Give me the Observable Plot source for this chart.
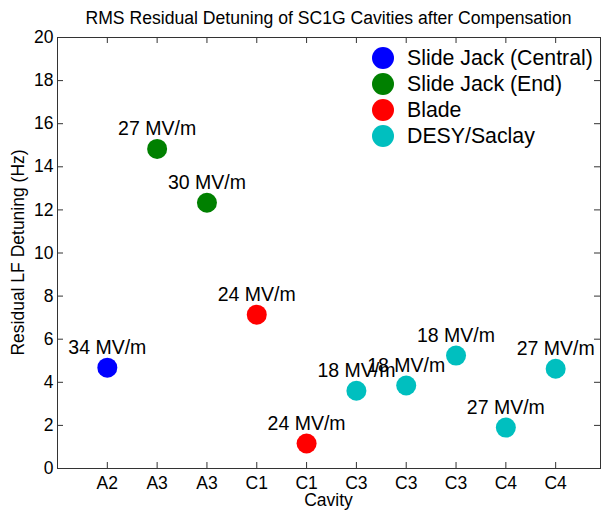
<!DOCTYPE html>
<html>
<head>
<meta charset="utf-8">
<script src="https://cdn.jsdelivr.net/npm/d3@7"></script>
<script src="https://cdn.jsdelivr.net/npm/@observablehq/plot@0.6"></script>
<style>
  html, body { margin: 0; padding: 0; background: #fff; }
  #wrap { position: relative; width: 603px; height: 512px; font-family: "Liberation Sans", Arial, sans-serif; }
  #legend { position: absolute; left: 372px; top: 45px; }
  .li { display: flex; align-items: center; height: 26px; font-size: 21.3px; color: #000; }
  .sw { width: 22px; height: 22px; border-radius: 50%; margin-right: 13px; }
</style>
</head>
<body>
<div id="wrap"></div>
<script>
const categories = ["A2", "A3", "A3", "C1", "C1", "C3", "C3", "C3", "C4", "C4"];
const positions = [1, 2, 3, 4, 5, 6, 7, 8, 9, 10];
const detuning = [4.68, 14.83, 12.33, 7.14, 1.16, 3.61, 3.85, 5.24, 1.90, 4.63];
const gradients = ["34 MV/m", "27 MV/m", "30 MV/m", "24 MV/m", "24 MV/m", "18 MV/m", "18 MV/m", "18 MV/m", "27 MV/m", "27 MV/m"];
const tuners = ["Slide Jack (Central)", "Slide Jack (End)", "Slide Jack (End)", "Blade", "Blade", "DESY/Saclay", "DESY/Saclay", "DESY/Saclay", "DESY/Saclay", "DESY/Saclay"];
const tunerTypes = ["Slide Jack (Central)", "Slide Jack (End)", "Blade", "DESY/Saclay"];
const tunerColors = ["#0000ff", "#008000", "#ff0000", "#00bfbf"];
const yTicks = [0, 2, 4, 6, 8, 10, 12, 14, 16, 18, 20];

const data = positions.map((p, i) => ({pos: p, cat: categories[i], val: detuning[i], label: gradients[i], tuner: tuners[i]}));

const W = 603, H = 512;
const mL = 57, mR = 3, mT = 37, mB = 44;
const innerW = W - mL - mR, innerH = H - mT - mB;
const tk = 6;
const font = "Liberation Sans, Arial, sans-serif";

const chart = Plot.plot({
  width: W,
  height: H,
  marginLeft: mL, marginRight: mR, marginTop: mT, marginBottom: mB,
  style: {fontFamily: font, fontSize: "17.5px", color: "#000", background: "#fff"},
  x: {type: "linear", domain: [0, 10.9], label: null},
  y: {domain: [0, 20], label: null},
  color: {domain: tunerTypes, range: tunerColors},
  marks: [
    Plot.frame({stroke: "#333"}),
    Plot.tickX(positions, {x: d => d, insetTop: innerH - tk, stroke: "#333"}),
    Plot.tickX(positions, {x: d => d, insetBottom: innerH - tk, stroke: "#333"}),
    Plot.tickY(yTicks, {y: d => d, insetRight: innerW - tk, stroke: "#333"}),
    Plot.tickY(yTicks, {y: d => d, insetLeft: innerW - tk, stroke: "#333"}),
    Plot.axisX(positions, {anchor: "bottom", tickSize: 0, tickPadding: 8, fontSize: 17.5, tickFormat: (d, i) => categories[i], label: null}),
    Plot.axisY(yTicks, {anchor: "left", tickSize: 0, tickPadding: 4, fontSize: 17.5, label: null}),
    Plot.dot(data, {x: "pos", y: "val", fill: "tuner", r: 10}),
    Plot.text(data, {x: "pos", y: "val", text: "label", dy: -20, fontSize: 19.5, fill: "#000"})
  ]
});

const svg = d3.select(chart);
svg.append("text")
  .attr("x", (mL + W - mR) / 2).attr("y", 24)
  .attr("text-anchor", "middle").attr("font-size", 17.6).attr("fill", "#000")
  .text("RMS Residual Detuning of SC1G Cavities after Compensation");
svg.append("text")
  .attr("x", (mL + W - mR) / 2).attr("y", 506)
  .attr("text-anchor", "middle").attr("font-size", 17.5).attr("fill", "#000")
  .text("Cavity");
svg.append("text")
  .attr("transform", `translate(24,${mT + innerH / 2}) rotate(-90)`)
  .attr("text-anchor", "middle").attr("font-size", 17.5).attr("fill", "#000")
  .text("Residual LF Detuning (Hz)");

const wrap = document.getElementById("wrap");
wrap.appendChild(chart);
const legend = document.createElement("div");
legend.id = "legend";
tunerTypes.forEach((t, i) => {
  const row = document.createElement("div");
  row.className = "li";
  const sw = document.createElement("span");
  sw.className = "sw";
  sw.style.background = tunerColors[i];
  const lab = document.createElement("span");
  lab.textContent = t;
  row.appendChild(sw);
  row.appendChild(lab);
  legend.appendChild(row);
});
wrap.appendChild(legend);
</script>
</body>
</html>
